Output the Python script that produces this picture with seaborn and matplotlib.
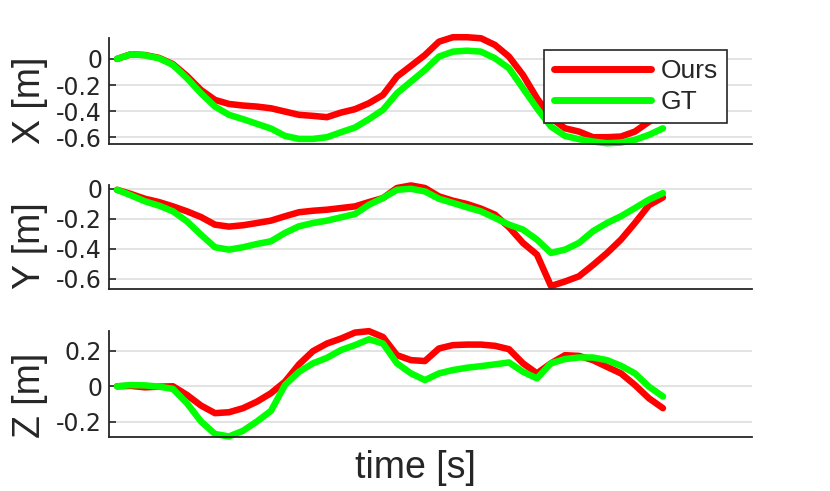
import numpy as np
import pandas as pd
import matplotlib
matplotlib.use("Agg")
import matplotlib.pyplot as plt
import seaborn as sns

# sampled trajectory, 40 samples over the sequence
time_s = np.arange(40) * 0.25

x_ours = [0.0, 0.036, 0.03, 0.008, -0.04, -0.13, -0.237, -0.313, -0.344, -0.356,
          -0.364, -0.377, -0.402, -0.427, -0.435, -0.445, -0.41, -0.384, -0.338, -0.275,
          -0.135, -0.053, 0.03, 0.132, 0.166, 0.166, 0.158, 0.107, 0.018, -0.122,
          -0.3, -0.45, -0.53, -0.555, -0.598, -0.598, -0.593, -0.555, -0.48, -0.42]
x_gt = [0.0, 0.036, 0.028, 0.005, -0.046, -0.147, -0.262, -0.364, -0.427, -0.46,
        -0.496, -0.532, -0.588, -0.611, -0.611, -0.598, -0.56, -0.524, -0.46, -0.389,
        -0.262, -0.173, -0.084, 0.018, 0.056, 0.063, 0.056, 0.005, -0.071, -0.224,
        -0.377, -0.517, -0.588, -0.613, -0.631, -0.644, -0.639, -0.618, -0.58, -0.53]

y_ours = [-0.007, -0.035, -0.067, -0.089, -0.118, -0.151, -0.189, -0.24, -0.253, -0.244,
          -0.229, -0.213, -0.184, -0.157, -0.147, -0.14, -0.129, -0.118, -0.089, -0.062,
          0.005, 0.022, 0.005, -0.051, -0.08, -0.102, -0.133, -0.173, -0.257, -0.362,
          -0.44, -0.65, -0.62, -0.585, -0.51, -0.43, -0.34, -0.229, -0.11, -0.058]
y_gt = [-0.007, -0.044, -0.084, -0.113, -0.151, -0.218, -0.307, -0.391, -0.407, -0.391,
        -0.369, -0.351, -0.295, -0.251, -0.229, -0.213, -0.191, -0.169, -0.107, -0.062,
        -0.007, 0.0, -0.018, -0.067, -0.095, -0.124, -0.151, -0.195, -0.24, -0.273,
        -0.34, -0.429, -0.407, -0.362, -0.284, -0.229, -0.184, -0.129, -0.073, -0.029]

z_ours = [0.0, 0.002, -0.006, -0.002, 0.0, -0.049, -0.109, -0.152, -0.147, -0.124,
          -0.087, -0.039, 0.026, 0.124, 0.199, 0.242, 0.27, 0.304, 0.312, 0.279,
          0.176, 0.148, 0.143, 0.214, 0.233, 0.236, 0.236, 0.229, 0.21, 0.13,
          0.073, 0.13, 0.176, 0.172, 0.148, 0.11, 0.073, 0.007, -0.068, -0.124]
z_gt = [0.0, 0.007, 0.005, -0.002, -0.015, -0.096, -0.199, -0.27, -0.284, -0.252,
        -0.199, -0.139, 0.007, 0.082, 0.13, 0.161, 0.205, 0.233, 0.266, 0.242,
        0.13, 0.073, 0.035, 0.073, 0.092, 0.105, 0.114, 0.124, 0.135, 0.082,
        0.045, 0.13, 0.154, 0.163, 0.163, 0.148, 0.116, 0.073, -0.002, -0.058]

axis_names = ["X [m]", "Y [m]", "Z [m]"]
y_ticks = [[-0.6, -0.4, -0.2, 0], [-0.6, -0.4, -0.2, 0], [-0.2, 0, 0.2]]
y_ticklabels = [["-0.6", "-0.4", "-0.2", "0"], ["-0.6", "-0.4", "-0.2", "0"], ["-0.2", "0", "0.2"]]
y_limits = [(-0.65, 0.16), (-0.67, 0.025), (-0.287, 0.313)]

methods = ["Ours", "GT"]
palette = {"Ours": "#ff0000", "GT": "#00ff00"}

frames = []
for name, ours, gt in zip(axis_names, [x_ours, y_ours, z_ours], [x_gt, y_gt, z_gt]):
    frames.append(pd.DataFrame({"time": time_s, "pos": ours, "method": "Ours", "axis": name}))
    frames.append(pd.DataFrame({"time": time_s, "pos": gt, "method": "GT", "axis": name}))
df = pd.concat(frames, ignore_index=True)

sns.set_style("white")
plt.rcParams["font.family"] = ["Liberation Sans", "DejaVu Sans"]
plt.rcParams["axes.unicode_minus"] = False

dark = "#262626"
fig = plt.figure(figsize=(8.3, 4.91), dpi=100)
# [left, bottom, width, height] for the three stacked panels
boxes = [[0.1313, 0.7067, 0.7747, 0.2159],
         [0.1313, 0.4114, 0.7747, 0.2118],
         [0.1313, 0.1100, 0.7747, 0.2159]]
label_y = [0.415, 0.42, 0.39]

for i, name in enumerate(axis_names):
    ax = fig.add_axes(boxes[i])
    sub = df[df["axis"] == name]
    sns.lineplot(data=sub, x="time", y="pos", hue="method", hue_order=methods,
                 palette=palette, linewidth=4.7, ax=ax, legend=(i == 0))
    for line in ax.lines:
        line.set_clip_on(False)
    ax.set_xlim(-0.143, 11.34)
    ax.set_ylim(*y_limits[i])
    ax.set_xticks([])
    ax.set_yticks(y_ticks[i])
    ax.set_yticklabels(y_ticklabels[i], fontfamily="DejaVu Sans", fontsize=17, color=dark)
    ax.tick_params(axis="y", direction="in", length=5, width=1.2, color=dark, pad=5, left=True)
    ax.yaxis.grid(True, color="#dedede", linewidth=1.2)
    ax.set_axisbelow(True)
    for side in ["top", "right"]:
        ax.spines[side].set_visible(False)
    for side in ["left", "bottom"]:
        ax.spines[side].set_color(dark)
        ax.spines[side].set_linewidth(1.3)
    ax.set_ylabel(name, fontsize=27, color=dark)
    ax.yaxis.set_label_coords(-0.095, label_y[i])
    if i < 2:
        ax.set_xlabel("")
    else:
        ax.set_xlabel("time [s]", fontsize=27, color=dark)
        ax.xaxis.set_label_coords(0.477, -0.12)
    if i == 0:
        leg = ax.legend(loc="upper right", bbox_to_anchor=(0.961, 0.887), borderaxespad=0,
                        fontsize=19, handlelength=3.7, fancybox=False, framealpha=1,
                        edgecolor=dark, labelspacing=0.25, borderpad=0.35, handletextpad=0.35)
        leg.get_frame().set_linewidth(1.2)
        leg.set_zorder(5)
        for line in leg.get_lines():
            line.set_linewidth(5)

fig.savefig("out.png", dpi=100)
